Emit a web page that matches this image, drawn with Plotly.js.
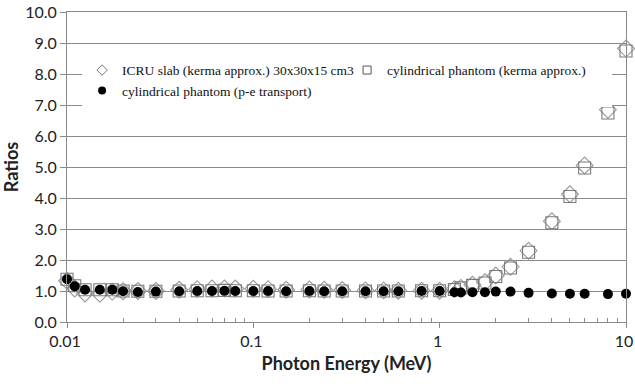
<!DOCTYPE html>
<html>
<head>
<meta charset="utf-8">
<script src="https://cdn.plot.ly/plotly-3.0.1.min.js"></script>
<style>html,body{margin:0;padding:0;background:#fff;}#chart{width:635px;height:386px;}</style>
</head>
<body>
<div id="chart"></div>
<script>
// Photon energies (MeV)
const energy = [0.01, 0.011, 0.0125, 0.015, 0.0175, 0.02, 0.024, 0.03, 0.04, 0.05, 0.06, 0.07, 0.08, 0.1,
  0.12, 0.15, 0.2, 0.24, 0.3, 0.4, 0.5, 0.6, 0.8, 1.0, 1.2, 1.3, 1.5, 1.75, 2, 2.4, 3, 4, 5, 6, 8, 10];

// ICRU slab (kerma approx.) 30x30x15 cm3
const icruSlab = [1.33, 1.08, 0.92, 0.91, 0.98, 0.99, 1.0, 1.0, 1.04, 1.06, 1.08, 1.08, 1.08, 1.07,
  1.06, 1.04, 1.05, 1.04, 1.03, 1.02, 1.02, 1.01, 1.01, 1.01, 1.06, 1.1, 1.2, 1.28, 1.5, 1.78, 2.3, 3.25, 4.12, 5.05, 6.85, 8.82];

// cylindrical phantom (kerma approx.)
const cylKerma = [1.38, 1.17, 1.04, 1.04, 1.04, 1.0, 0.99, 0.99, 1.0, 1.01, 1.01, 1.02, 1.01, 1.01,
  1.0, 1.0, 1.01, 1.0, 1.0, 1.0, 1.0, 1.0, 1.01, 1.01, 1.05, 1.1, 1.18, 1.26, 1.47, 1.74, 2.25, 3.2, 4.05, 4.97, 6.74, 8.74];

// cylindrical phantom (p-e transport)
const cylPE = [1.38, 1.15, 1.04, 1.04, 1.04, 0.99, 0.97, 0.98, 0.99, 1.0, 1.0, 1.01, 1.0, 1.0,
  1.0, 0.99, 1.0, 0.99, 0.99, 0.99, 0.99, 0.99, 1.0, 1.0, 0.96, 0.95, 0.96, 0.96, 0.98, 0.98, 0.94, 0.92, 0.91, 0.91, 0.9, 0.91];

const seriesNames = ['ICRU slab (kerma approx.) 30x30x15 cm3', 'cylindrical phantom (kerma approx.)', 'cylindrical phantom (p-e transport)'];

const xTickVals = [0.01, 0.1, 1, 10];
const xTickText = ['0.01', '0.1', '1', '10'];
const xMinorVals = [0.02,0.03,0.04,0.05,0.06,0.07,0.08,0.09,0.2,0.3,0.4,0.5,0.6,0.7,0.8,0.9,2,3,4,5,6,7,8,9];
const yTickVals = [0,1,2,3,4,5,6,7,8,9,10];
const yTickText = ['0.0','1.0','2.0','3.0','4.0','5.0','6.0','7.0','8.0','9.0','10.0'];

const gray = '#8a8a8a';

const traces = [
  {x: energy, y: icruSlab, type: 'scatter', mode: 'markers', showlegend: false, cliponaxis: false,
   marker: {symbol: 'diamond-open', size: 13, color: '#9a9a9a', line: {width: 1.1, color: '#9a9a9a'}}},
  {x: energy, y: cylKerma, type: 'scatter', mode: 'markers', showlegend: false, cliponaxis: false,
   marker: {symbol: 'square-open', size: 12, color: '#7a7a7a', line: {width: 1.1, color: '#7a7a7a'}}},
  {x: energy, y: cylPE, type: 'scatter', mode: 'markers', showlegend: false, cliponaxis: false,
   marker: {symbol: 'circle', size: 10, color: '#000'}},
  // legend entries (small icons)
  {x: [null], y: [null], type: 'scatter', mode: 'markers', name: seriesNames[0],
   marker: {symbol: 'diamond-open', size: 8, color: '#777', line: {width: 1, color: '#777'}}},
  {x: [null], y: [null], type: 'scatter', mode: 'markers', name: seriesNames[1],
   marker: {symbol: 'square-open', size: 8, color: '#555', line: {width: 1, color: '#555'}}},
  {x: [null], y: [null], type: 'scatter', mode: 'markers', name: seriesNames[2],
   marker: {symbol: 'circle', size: 8, color: '#000'}}
];

const layout = {
  width: 635, height: 386,
  margin: {l: 67, r: 9, t: 12, b: 64},
  paper_bgcolor: '#fff', plot_bgcolor: '#fff',
  font: {family: 'Lato, "Open Sans", sans-serif', color: '#222'},
  xaxis: {
    type: 'log', range: [-2, 1], tickmode: 'array', tickvals: xTickVals, ticktext: xTickText,
    ticklabeloverflow: 'allow', ticklabelshift: -2,
    showgrid: false, zeroline: false, showline: true, linecolor: gray, linewidth: 1, mirror: true,
    ticks: 'outside', ticklen: 5, tickcolor: gray,
    tickfont: {family: 'Lato, sans-serif', size: 16, color: '#222'},
    minor: {tickmode: 'array', tickvals: xMinorVals, ticks: 'inside', ticklen: 4, tickcolor: gray, showgrid: false},
    title: {text: 'Photon Energy (MeV)', font: {family: 'Lato, sans-serif', size: 18, color: '#222', weight: 'bold'}, standoff: 8}
  },
  yaxis: {
    range: [0, 10], tickmode: 'array', tickvals: yTickVals, ticktext: yTickText,
    showgrid: true, gridcolor: gray, gridwidth: 1, zeroline: false,
    showline: true, linecolor: gray, linewidth: 1, mirror: true,
    ticks: 'outside', ticklen: 6, tickcolor: gray,
    tickfont: {family: 'Lato, sans-serif', size: 16, color: '#222'},
    title: {text: 'Ratios', font: {family: 'Lato, sans-serif', size: 18, color: '#222', weight: 'bold'}, standoff: 8}
  },
  legend: {
    orientation: 'h', x: 0.027, xanchor: 'left', y: 0.862, yanchor: 'top',
    bgcolor: '#fff', borderwidth: 0, itemwidth: 30,
    entrywidth: 220, entrywidthmode: 'pixels',
    font: {family: '"Liberation Serif", serif', size: 13.5, color: '#111'}
  },
  showlegend: true
};

Plotly.newPlot('chart', traces, layout, {displayModeBar: false, staticPlot: true});
</script>
</body>
</html>
